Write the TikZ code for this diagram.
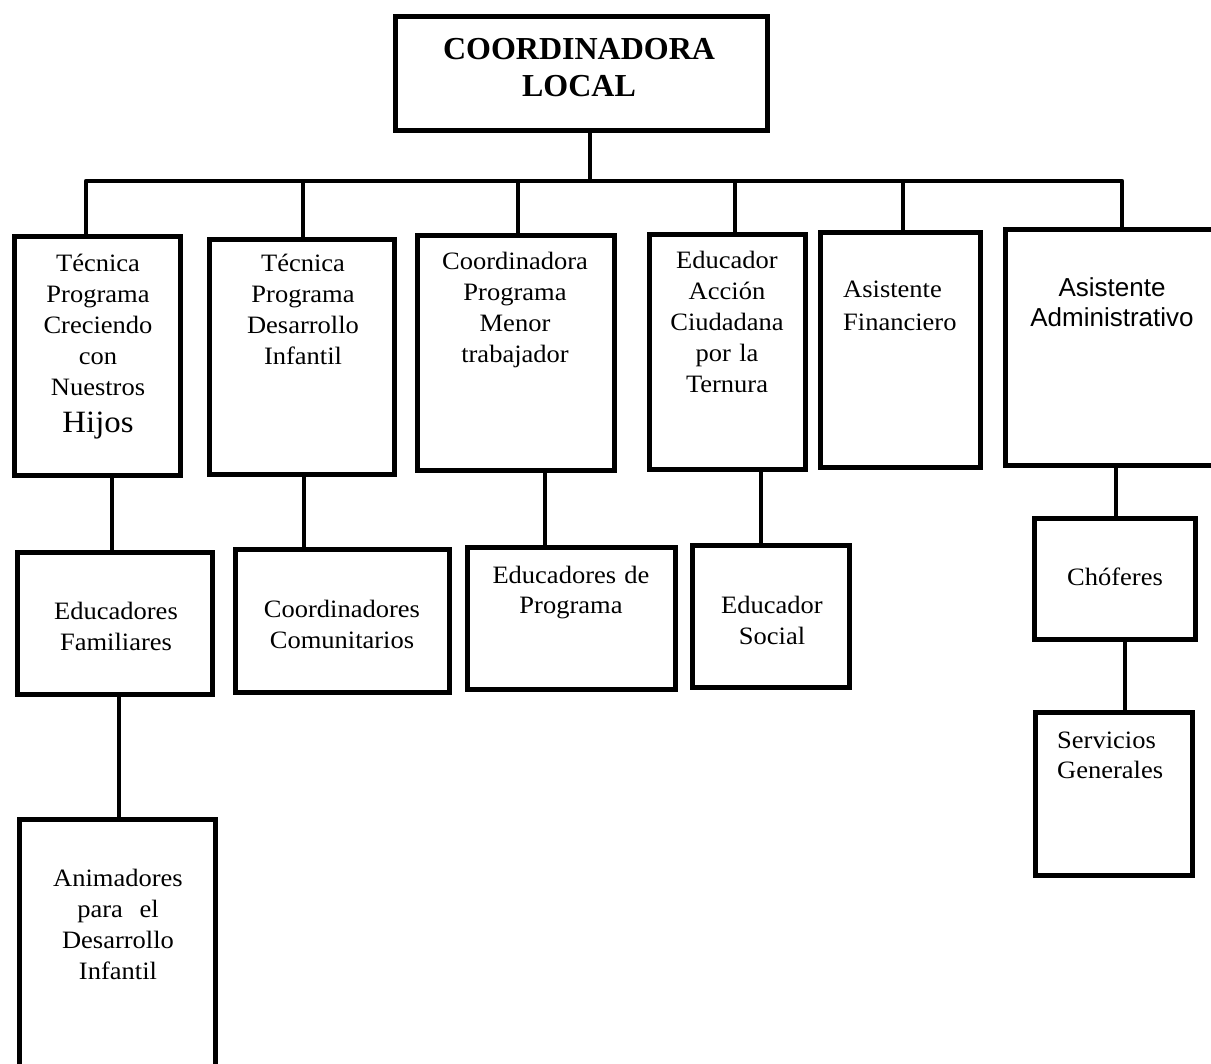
\documentclass[tikz,border=0pt]{standalone}
\usepackage{fontspec}
\setmainfont{Liberation Serif}
\newfontfamily\bodyf[FakeStretch=1.06]{Liberation Serif}
\newfontfamily\sansf{Liberation Sans}
\begin{document}
\begin{tikzpicture}[x=1pt,y=-1pt,
  box/.style={draw=black,line width=4.6pt,inner sep=0pt,outer sep=0pt,fill=white,line join=miter},
  conn/.style={draw=black,line width=4.2pt,line join=round},
  lbl/.style={inner sep=0pt,anchor=base,text width=220pt,align=center,
    font=\bodyf\fontsize{25}{31}\selectfont},
  lbll/.style={inner sep=0pt,anchor=base west,text width=160pt,align=left,
    font=\bodyf\fontsize{25}{31}\selectfont}]
\useasboundingbox (0,0) rectangle (1211,1064);
\clip (0,0) rectangle (1211,1064);
\fill[white] (0,0) rectangle (1211,1064);

% top level
\node[box,minimum width=372pt,minimum height=114pt] (top) at (581.5,73.5) {};

% second level
\node[box,minimum width=166pt,minimum height=239pt] (b1) at (97.5,356) {};
\node[box,minimum width=185pt,minimum height=235pt] (b2) at (302,357) {};
\node[box,minimum width=197pt,minimum height=235pt] (b3) at (516,353) {};
\node[box,minimum width=156pt,minimum height=235pt] (b4) at (727.5,352) {};
\node[box,minimum width=160pt,minimum height=235pt] (b5) at (900.5,350) {};
\node[box,minimum width=232pt,minimum height=236pt] (b6) at (1121.5,347.5) {};

% third level
\node[box,minimum width=195pt,minimum height=142pt] (c1) at (115,623.5) {};
\node[box,minimum width=214pt,minimum height=143pt] (c2) at (342.5,621) {};
\node[box,minimum width=208pt,minimum height=142pt] (c3) at (571.5,618.5) {};
\node[box,minimum width=157pt,minimum height=142pt] (c4) at (771,616.5) {};
\node[box,minimum width=161pt,minimum height=121pt] (c6) at (1115,579) {};

% fourth level
\node[box,minimum width=157pt,minimum height=163pt] (d6) at (1114,794) {};
\node[box,minimum width=196pt,minimum height=281pt] (d1) at (117.5,960) {};

% bus joints
\coordinate (j1) at (86,181);
\coordinate (j2) at (303,181);
\coordinate (j3) at (518,181);
\coordinate (j4) at (735,181);
\coordinate (j5) at (903,181);
\coordinate (j6) at (1122,181);

% connectors
\draw[conn] ([xshift=8.5pt]top.south) -- ([xshift=8.5pt]top.south |- j1);
\draw[conn] (j1 |- b1.north) -- (j1) -- (j6) -- (j6 |- b6.north);
\draw[conn] (j2) -- (j2 |- b2.north);
\draw[conn] (j3) -- (j3 |- b3.north);
\draw[conn] (j4) -- (j4 |- b4.north);
\draw[conn] (j5) -- (j5 |- b5.north);
\draw[conn] ([xshift=14.5pt]b1.south) -- ([xshift=14.5pt]b1.south |- c1.north);
\draw[conn] ([xshift=2pt]b2.south) -- ([xshift=2pt]b2.south |- c2.north);
\draw[conn] ([xshift=29pt]b3.south) -- ([xshift=29pt]b3.south |- c3.north);
\draw[conn] ([xshift=33.5pt]b4.south) -- ([xshift=33.5pt]b4.south |- c4.north);
\draw[conn] ([xshift=-5.5pt]b6.south) -- ([xshift=-5.5pt]b6.south |- c6.north);
\draw[conn] ([xshift=10pt]c6.south) -- ([xshift=10pt]c6.south |- d6.north);
\draw[conn] ([xshift=4pt]c1.south) -- ([xshift=4pt]c1.south |- d1.north);

% labels
\node[lbl,text width=360pt,font=\rmfamily\fontsize{32}{37}\selectfont\bfseries] (topt) at (579,60) {COORDINADORA\\LOCAL};
\node[lbl] (b1t) at (98,272) {Técnica\\Programa\\Creciendo\\con\\Nuestros\\[6pt]{\fontsize{31}{31}\selectfont Hijos}};
\node[lbl] (b2t) at (303,272) {Técnica\\Programa\\Desarrollo\\Infantil};
\node[lbl] (b3t) at (515,270) {Coordinadora\\Programa\\Menor\\trabajador};
\node[lbl] (b4t) at (727,269) {Educador\\Acción\\Ciudadana\\por la\\Ternura};
\node[lbll,font=\bodyf\fontsize{25}{33}\selectfont] (b5t) at (843,298) {Asistente\\Financiero};
\node[lbl,font=\sansf\fontsize{26}{30}\selectfont] (b6t) at (1112,297) {Asistente\\Administrativo};
\node[lbl] (c1t) at (116,619) {Educadores\\Familiares};
\node[lbl] (c2t) at (342,617) {Coordinadores\\Comunitarios};
\node[lbl] (c3t) at (571,583) {Educadores de\\Programa};
\node[lbl] (c4t) at (772,613) {Educador\\Social};
\node[lbl] (c6t) at (1115,585) {Chóferes};
\node[lbll,font=\bodyf\fontsize{25}{30}\selectfont] (d6t) at (1057,748) {Servicios\\Generales};
\node[lbl] (d1t) at (118,886) {Animadores\\para\ \ el\\Desarrollo\\Infantil};
\end{tikzpicture}
\end{document}
